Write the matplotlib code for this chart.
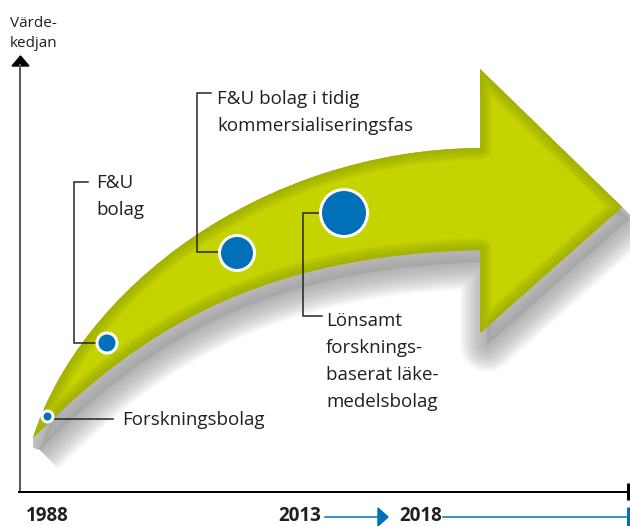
import numpy as np
import matplotlib.pyplot as plt
from matplotlib.path import Path
from matplotlib.patches import PathPatch, Circle, Polygon

plt.rcParams['font.family'] = ['Open Sans', 'DejaVu Sans']

# stages along the value chain (smallest to largest company)
stages = ["Forskningsbolag", "F&U\nbolag", "F&U bolag i tidig\nkommersialiseringsfas",
          "Lönsamt\nforsknings-\nbaserat läke-\nmedelsbolag"]
years = ["1988", "2013", "2018"]
y_label = "Värde-\nkedjan"

GREEN = "#c5d300"
GREEN_DARK = "#98a600"
BLUE = "#0070b8"
INK = "#231f20"
PT = 0.72  # one pixel in points at 100 dpi

fig = plt.figure(figsize=(6.3, 5.26), dpi=100)
ax = fig.add_axes([0, 0, 1, 1])
ax.set_xlim(0, 630)
ax.set_ylim(526, 0)
ax.axis("off")

# curved arrow, pixel space: upper edge, head, lower edge back to the tip
verts = [(33, 438), (80, 290), (260, 150), (480, 148),
         (480, 69), (622, 207), (480, 333), (480, 250),
         (260, 255), (140, 330), (33, 438)]
codes = [Path.MOVETO, Path.CURVE4, Path.CURVE4, Path.CURVE4,
         Path.LINETO, Path.LINETO, Path.LINETO, Path.LINETO,
         Path.CURVE4, Path.CURVE4, Path.CURVE4]
arrow = Path(verts, codes)

# shadow only falls below / right of the arrow: clip away the upper side
clip_verts = [(33, 526)] + verts[:6] + [(680, 263), (680, 526), (33, 526)]
clip_codes = [Path.MOVETO, Path.LINETO] + codes[1:6] + [Path.LINETO] * 3
clip = PathPatch(Path(clip_verts, clip_codes), fc="none", ec="none")
ax.add_patch(clip)

# soft drop shadow, built from stacked translucent outlines
shadow = Path(np.array(verts, float) + [7, 12], codes)
for w in np.linspace(54, 0, 28):
    p = ax.add_patch(PathPatch(shadow, fc="none", ec="#8a8a8a", lw=w * PT,
                               alpha=0.03, joinstyle="round"))
    p.set_clip_path(clip)
p = ax.add_patch(PathPatch(shadow, fc="#8a8a8a", ec="none", alpha=0.3))
p.set_clip_path(clip)

body = PathPatch(arrow, fc=GREEN, ec="none")
ax.add_patch(body)
# darker bevel along the edges
for w in np.linspace(24, 2, 10):
    edge = PathPatch(arrow, fc="none", ec=GREEN_DARK, lw=w * PT, alpha=0.11,
                     joinstyle="round")
    ax.add_patch(edge)
    edge.set_clip_path(body)

# value axis
ax.plot([20, 20], [492, 64], color="#5a5a5a", lw=2 * PT, solid_capstyle="butt")
ax.add_patch(Polygon([(12, 66), (29, 66), (20.5, 56)], color="black"))
ax.plot([19, 628], [492, 492], color="black", lw=2 * PT)
ax.plot([628, 628], [483, 500], color="black", lw=3 * PT, solid_capstyle="butt")
for i, line in enumerate(y_label.split("\n")):
    ax.text(10, 27 + i * 20, line, fontsize=11, color=INK, va="baseline")

# time line
year_x = [26, 278, 399]
for x, yr in zip(year_x, years):
    ax.text(x, 526, yr, fontsize=13.5, fontweight="bold", color=INK, va="bottom")
ax.plot([325, 380], [517, 517], color=BLUE, lw=1.5 * PT)
ax.add_patch(Polygon([(378, 508), (378, 526), (388, 517)], color=BLUE))
ax.plot([443, 628], [517, 517], color=BLUE, lw=1.5 * PT)
ax.plot([628, 628], [507, 526], color=BLUE, lw=3 * PT, solid_capstyle="butt")

# company stages: circle, leader line, label
circles = [(47.5, 416.5, 5.5), (107, 343, 10), (237, 253, 17.5), (344, 213, 23.5)]
leaders = [[(55, 419), (113, 419)],
           [(96, 343), (74, 343), (74, 182), (88, 182)],
           [(218, 252), (197, 252), (197, 93), (211, 93)],
           [(319, 213), (303, 213), (303, 316), (322, 316)]]
label_pos = [(122, 425), (96, 188), (217, 104), (326, 326)]
line_step = 27

for (cx, cy, r), pts, (tx, ty), text in zip(circles, leaders, label_pos, stages):
    xs, ys = zip(*pts)
    ax.plot(xs, ys, color=INK, lw=1.5 * PT, solid_joinstyle="miter")
    ax.add_patch(Circle((cx, cy), r, fc=BLUE, ec="white", lw=3 * PT, zorder=5))
    for i, line in enumerate(text.split("\n")):
        ax.text(tx, ty + i * line_step, line, fontsize=13.5, color=INK, va="baseline")

fig.savefig("out.png", dpi=100)
